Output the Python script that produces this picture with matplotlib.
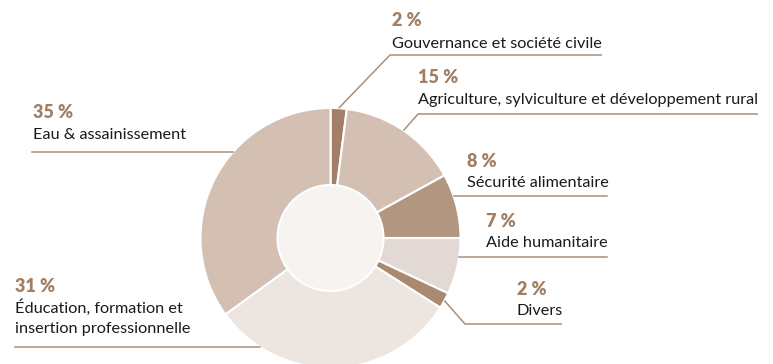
import matplotlib.pyplot as plt
from matplotlib.patches import Circle
import numpy as np

categories = ["Gouvernance et société civile",
              "Agriculture, sylviculture et développement rural",
              "Sécurité alimentaire",
              "Aide humanitaire",
              "Divers",
              "Éducation, formation et\ninsertion professionnelle",
              "Eau & assainissement"]
values = [2, 15, 8, 7, 2, 31, 35]
colors = ["#a27f66", "#d3c0b3", "#b3967f", "#e3d9d4", "#a9896f", "#ece5e0", "#d3c0b3"]

W, H = 773, 364
fig = plt.figure(figsize=(W / 100, H / 100), dpi=100)
ax = fig.add_axes([0, 0, 1, 1])
ax.set_xlim(0, W)
ax.set_ylim(0, H)
ax.set_aspect("equal")
ax.axis("off")

cx, cy, R, r_in = 330.5, H - 238, 130, 53
brown = "#a07f65"
line_col = "#ab8e78"

wedges, _ = ax.pie(values, colors=colors, startangle=90, counterclock=False,
                   center=(cx, cy), radius=R,
                   wedgeprops=dict(edgecolor="white", linewidth=1.5))
ax.add_patch(Circle((cx, cy), r_in, facecolor="#f6f3f1", edgecolor="white", lw=1.5, zorder=5))
ax.set_xlim(0, W)
ax.set_ylim(0, H)

# label layout in image coords: (x text, pct baseline, label baseline, underline y, line x0, line x1, kind)
layout = [
    (392, 26, 48, 55, 390, 602, "diag"),
    (418, 83, 104, 114, 418, 758, "diag"),
    (467, 167, 187, 196, None, 607, "flat"),
    (486, 227, 247, 257, None, 607, "flat"),
    (517, 295, 315, 324, 465, 562, "diag"),
    (15, 292, 313, 347, 15, None, "flat"),
    (33, 118, 139, 152, 32, None, "flat"),
]

fontname = "Lato"
angles = []
start = 90.0
for v in values:
    end = start - v * 3.6
    angles.append((start + end) / 2)
    start = end

for i, (cat, v) in enumerate(zip(categories, values)):
    tx, pb, lb, uy, x0, x1, kind = layout[i]
    ax.text(tx, H - pb, f"{v} %", fontsize=13, fontweight="heavy", color=brown,
            family=fontname, va="baseline", ha="left")
    lines = cat.split("\n")
    for j, ln in enumerate(lines):
        ax.text(tx, H - lb - j * 20, ln, fontsize=11.7, color="#1a1a1a",
                family=fontname, va="baseline", ha="left")
    yline = H - uy
    if kind == "diag":
        a = np.deg2rad(angles[i])
        px, py = cx + R * np.cos(a), cy + R * np.sin(a)
        ax.plot([px, x0, x1], [py, yline, yline], color=line_col, lw=1.1, solid_capstyle="butt")
    else:
        dy = yline - cy
        dx = np.sqrt(R ** 2 - dy ** 2)
        if x1 is None:
            ax.plot([x0, cx - dx], [yline, yline], color=line_col, lw=1.1)
        else:
            ax.plot([cx + dx, x1], [yline, yline], color=line_col, lw=1.1)

fig.savefig("out.png", dpi=100)
